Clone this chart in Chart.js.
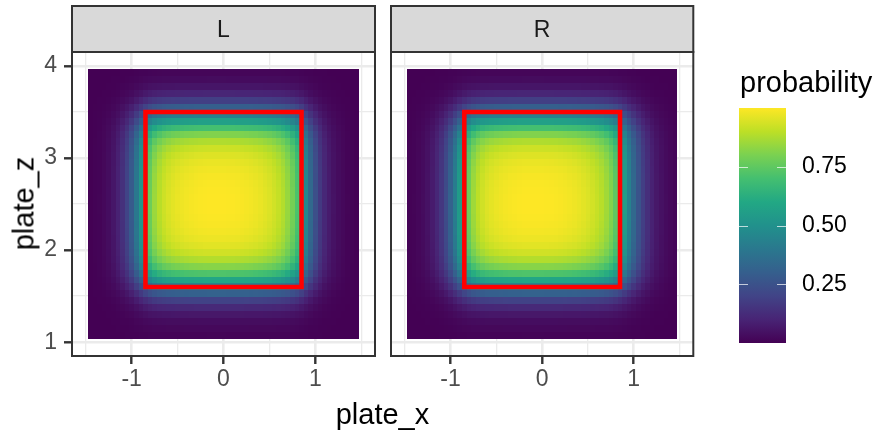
<!DOCTYPE html>
<html><head><meta charset="utf-8">
<script src="https://cdn.jsdelivr.net/npm/chart.js@4.4.1/dist/chart.umd.min.js"></script>
<style>
html,body{margin:0;padding:0;background:#fff;}
#wrap{position:relative;width:879px;height:432px;overflow:hidden;font-family:"Liberation Sans",Arial,sans-serif;}
canvas{position:absolute;top:0;}
.t{position:absolute;font-size:29px;line-height:29px;color:#000;white-space:nowrap;}
</style></head><body>
<div id="wrap">
<canvas id="cL" width="380" height="432" style="left:0px;width:380px;height:432px"></canvas>
<canvas id="cR" width="320" height="432" style="left:380px;width:320px;height:432px"></canvas>
<canvas id="cLeg" width="179" height="432" style="left:700px;width:179px;height:432px"></canvas>
<div class="t" id="xTitle" style="left:72px;width:621px;top:400px;text-align:center;"></div>
<div class="t" id="yTitle" style="left:-76px;width:200px;top:189px;height:29px;text-align:center;transform:rotate(-90deg);"></div>
<div class="t" id="legTitle" style="left:740px;top:68px;"></div>
</div>
<script>
// ---------------- data ----------------
const panels = ['L', 'R'];
const xTitle = 'plate_x';
const yTitle = 'plate_z';
const legendTitle = 'probability';

// tile centres
const xCenters = [-1.45,-1.40,-1.35,-1.30,-1.25,-1.20,-1.15,-1.10,-1.05,-1.00,-0.95,-0.90,-0.85,-0.80,-0.75,-0.70,-0.65,-0.60,-0.55,-0.50,-0.45,-0.40,-0.35,-0.30,-0.25,-0.20,-0.15,-0.10,-0.05,0.00,0.05,0.10,0.15,0.20,0.25,0.30,0.35,0.40,0.45,0.50,0.55,0.60,0.65,0.70,0.75,0.80,0.85,0.90,0.95,1.00,1.05,1.10,1.15,1.20,1.25,1.30,1.35,1.40,1.45];
const zCenters = [1.075,1.150,1.225,1.300,1.375,1.450,1.525,1.600,1.675,1.750,1.825,1.900,1.975,2.050,2.125,2.200,2.275,2.350,2.425,2.500,2.575,2.650,2.725,2.800,2.875,2.950,3.025,3.100,3.175,3.250,3.325,3.400,3.475,3.550,3.625,3.700,3.775,3.850,3.925];

// horizontal probability profile (read along the centre row of each panel)
const xProfileL = [0.000,0.005,0.010,0.020,0.035,0.060,0.095,0.140,0.200,0.285,0.400,0.530,0.660,0.775,0.850,0.895,0.925,0.945,0.960,0.970,0.978,0.985,0.990,0.994,0.997,0.999,1.000,1.000,1.000,1.000,0.999,0.998,0.996,0.993,0.989,0.984,0.978,0.970,0.960,0.948,0.932,0.912,0.885,0.845,0.790,0.715,0.600,0.460,0.340,0.240,0.165,0.110,0.075,0.050,0.032,0.020,0.010,0.005,0.000];
const xProfileR = [0.005,0.010,0.018,0.030,0.048,0.075,0.110,0.160,0.225,0.310,0.420,0.545,0.670,0.780,0.855,0.900,0.930,0.950,0.963,0.973,0.981,0.987,0.992,0.995,0.998,1.000,1.000,1.000,1.000,1.000,0.999,0.998,0.996,0.993,0.989,0.984,0.978,0.970,0.960,0.948,0.933,0.915,0.892,0.860,0.815,0.750,0.660,0.550,0.440,0.340,0.255,0.185,0.135,0.095,0.065,0.045,0.030,0.020,0.012];
// vertical probability profile (read along the centre column)
const zProfile = [0.010,0.020,0.035,0.065,0.115,0.195,0.310,0.450,0.590,0.720,0.820,0.885,0.930,0.958,0.975,0.986,0.993,0.997,1.000,1.000,1.000,0.998,0.995,0.990,0.982,0.970,0.952,0.925,0.880,0.810,0.700,0.565,0.430,0.300,0.185,0.105,0.058,0.030,0.015];

// strike zone
const zoneX = [-0.85, 0.85];
const zoneZ = [1.6, 3.5];

// axes
const xLim = [-1.65, 1.65];
const zLim = [0.85, 4.15];
const xTicks = [-1, 0, 1];
const xTickLabels = ['-1', '0', '1'];
const xMinor = [-1.5, -0.5, 0.5, 1.5];
const zTicks = [1, 2, 3, 4];
const zTickLabels = ['1', '2', '3', '4'];
const zMinor = [1.5, 2.5, 3.5];

// colour legend
const colorLim = [0, 1];
const legendTicks = [0.25, 0.5, 0.75];
const legendLabels = ['0.25', '0.50', '0.75'];

// viridis palette
const viridisStops = ['#440154','#482475','#414487','#355f8d','#2a788e','#21918c','#22a884','#44bf70','#7ad151','#bddf26','#fde725'];

// ---------------- helpers / styling ----------------
const FONT = '"Liberation Sans", Arial, sans-serif';
Chart.defaults.font.family = FONT;
const TILE_W = 0.05, TILE_H = 0.075;
const STRIP_TOP = 6;

function hexRgb(h){ return [parseInt(h.slice(1,3),16), parseInt(h.slice(3,5),16), parseInt(h.slice(5,7),16)]; }
const vRgb = viridisStops.map(hexRgb);
function viridis(v){
  let t = (v - colorLim[0]) / (colorLim[1] - colorLim[0]);
  t = Math.max(0, Math.min(1, t));
  const p = t * (vRgb.length - 1);
  const i = Math.min(Math.floor(p), vRgb.length - 2);
  const f = p - i;
  const a = vRgb[i], b = vRgb[i+1];
  return 'rgb(' + [0,1,2].map(k => Math.round(a[k] + (b[k]-a[k])*f)).join(',') + ')';
}

function buildCells(xProfile){
  const cells = [];
  zCenters.forEach((z, j) => {
    xCenters.forEach((x, i) => { cells.push({ x: x, y: z, v: xProfile[i] * zProfile[j] }); });
  });
  return cells;
}
function zonePath(){
  return [
    {x: zoneX[0], y: zoneZ[0]}, {x: zoneX[0], y: zoneZ[1]},
    {x: zoneX[1], y: zoneZ[1]}, {x: zoneX[1], y: zoneZ[0]},
    {x: zoneX[0], y: zoneZ[0]}
  ];
}

const panelPlugin = {
  id: 'panelDeco',
  beforeDatasetsDraw(chart) {
    const {ctx, chartArea: a} = chart;
    const xs = chart.scales.x, ys = chart.scales.y;
    const cells = chart.data.datasets[0].data;
    ctx.save();
    ctx.beginPath(); ctx.rect(a.left, a.top, a.right - a.left, a.bottom - a.top); ctx.clip();
    for (const c of cells) {
      const x0 = Math.round(xs.getPixelForValue(c.x - TILE_W/2));
      const x1 = Math.round(xs.getPixelForValue(c.x + TILE_W/2));
      const y0 = Math.round(ys.getPixelForValue(c.y + TILE_H/2));
      const y1 = Math.round(ys.getPixelForValue(c.y - TILE_H/2));
      ctx.fillStyle = viridis(c.v);
      ctx.fillRect(x0, y0, x1 - x0, y1 - y0);
    }
    ctx.restore();
  },
  afterDraw(chart, args, opts) {
    const {ctx, chartArea: a} = chart;
    ctx.save();
    // strip
    ctx.fillStyle = '#D9D9D9';
    ctx.fillRect(a.left, STRIP_TOP, a.right - a.left, a.top - STRIP_TOP);
    ctx.strokeStyle = '#333333';
    ctx.lineWidth = 2;
    ctx.strokeRect(a.left, STRIP_TOP, a.right - a.left, a.top - STRIP_TOP);
    ctx.fillStyle = '#1A1A1A';
    ctx.font = '23px ' + FONT;
    ctx.textAlign = 'center';
    ctx.textBaseline = 'middle';
    ctx.fillText(opts.label, (a.left + a.right) / 2, (STRIP_TOP + a.top) / 2 + 2);
    // panel border
    ctx.strokeStyle = '#333333';
    ctx.lineWidth = 2;
    ctx.strokeRect(a.left, a.top, a.right - a.left, a.bottom - a.top);
    ctx.restore();
  }
};

function makePanel(id, label, xProfile, showY, pad) {
  const xGrid = xTicks.concat(xMinor).sort((p, q) => p - q);
  const zGrid = zTicks.concat(zMinor).sort((p, q) => p - q);
  const xMajor = v => xTicks.indexOf(v) >= 0;
  const zMajor = v => zTicks.indexOf(v) >= 0;
  return new Chart(document.getElementById(id), {
    type: 'scatter',
    data: {
      datasets: [
        { label: 'probability', data: buildCells(xProfile), pointRadius: 0, pointHoverRadius: 0 },
        { label: 'zone', data: zonePath(), showLine: true, pointRadius: 0, borderColor: '#FF0000',
          borderWidth: 4.5, borderJoinStyle: 'miter', borderCapStyle: 'square', fill: false, tension: 0 }
      ]
    },
    options: {
      responsive: false, animation: false, events: [],
      layout: { padding: pad },
      plugins: { legend: { display: false }, tooltip: { enabled: false }, panelDeco: { label: label } },
      scales: {
        x: {
          type: 'linear', min: xLim[0], max: xLim[1],
          afterBuildTicks: s => { s.ticks = xGrid.map(v => ({ value: v })); },
          afterFit: s => { s.height = 44; },
          ticks: { autoSkip: false, maxRotation: 0, minRotation: 0, padding: 2, color: '#4D4D4D',
                   font: { size: 23, family: FONT },
                   callback: v => { const i = xTicks.indexOf(v); return i >= 0 ? xTickLabels[i] : ''; } },
          grid: { color: '#EBEBEB', lineWidth: c => (c.tick && xMajor(c.tick.value)) ? 2.6 : 1.3,
                  tickLength: 8, tickColor: c => (c.tick && xMajor(c.tick.value)) ? '#333333' : 'rgba(0,0,0,0)',
                  tickWidth: c => (c.tick && xMajor(c.tick.value)) ? 2.4 : 0.01 },
          border: { display: false }
        },
        y: {
          type: 'linear', min: zLim[0], max: zLim[1],
          afterBuildTicks: s => { s.ticks = zGrid.map(v => ({ value: v })); },
          afterFit: s => { s.width = showY ? 72 : 0; },
          ticks: { display: showY, autoSkip: false, padding: 7, color: '#4D4D4D',
                   font: { size: 23, family: FONT },
                   callback: v => { const i = zTicks.indexOf(v); return i >= 0 ? zTickLabels[i] : ''; } },
          grid: { color: '#EBEBEB', lineWidth: c => (c.tick && zMajor(c.tick.value)) ? 2.6 : 1.3,
                  drawTicks: showY, tickLength: showY ? 8 : 0,
                  tickColor: c => (c.tick && zMajor(c.tick.value)) ? '#333333' : 'rgba(0,0,0,0)',
                  tickWidth: c => (c.tick && zMajor(c.tick.value)) ? 2.4 : 0.01 },
          border: { display: false }
        }
      }
    },
    plugins: [panelPlugin]
  });
}

makePanel('cL', panels[0], xProfileL, true,  { left: 0,  top: 52, right: 5,   bottom: 32 });
makePanel('cR', panels[1], xProfileR, false, { left: 11, top: 52, right: 6.7, bottom: 32 });

// ---------------- colour bar ----------------
function barGradient(chart) {
  const a = chart.chartArea;
  if (!a) return viridisStops[5];
  const g = chart.ctx.createLinearGradient(0, a.bottom, 0, a.top);
  viridisStops.forEach((c, i) => g.addColorStop(i / (viridisStops.length - 1), c));
  return g;
}
const legendTickPlugin = {
  id: 'legTicks',
  afterDatasetsDraw(chart) {
    const {ctx, chartArea: a} = chart;
    const ys = chart.scales.y;
    ctx.save();
    ctx.strokeStyle = 'rgba(255,255,255,0.7)';
    ctx.lineWidth = 1.2;
    const L = 9;
    legendTicks.forEach(v => {
      const py = Math.round(ys.getPixelForValue(v)) + 0.5;
      ctx.beginPath();
      ctx.moveTo(a.left, py); ctx.lineTo(a.left + L, py);
      ctx.moveTo(a.right - L, py); ctx.lineTo(a.right, py);
      ctx.stroke();
    });
    ctx.restore();
  }
};
new Chart(document.getElementById('cLeg'), {
  type: 'bar',
  data: { labels: [legendTitle],
          datasets: [{ data: [[colorLim[0], colorLim[1]]], backgroundColor: c => barGradient(c.chart),
                       borderWidth: 0, barPercentage: 1, categoryPercentage: 1 }] },
  options: {
    responsive: false, animation: false, events: [],
    layout: { padding: { left: 39, top: 108, right: 0, bottom: 89 } },
    plugins: { legend: { display: false }, tooltip: { enabled: false } },
    scales: {
      x: { display: false },
      y: { position: 'right', min: colorLim[0], max: colorLim[1],
           afterBuildTicks: s => { s.ticks = legendTicks.map(v => ({ value: v })); },
           afterFit: s => { s.width = 93; },
           grid: { display: false, drawTicks: false }, border: { display: false },
           ticks: { padding: 16, color: '#000000', font: { size: 23, family: FONT },
                    callback: (v, i) => legendLabels[i] } }
    }
  },
  plugins: [legendTickPlugin]
});

document.getElementById('xTitle').textContent = xTitle;
document.getElementById('yTitle').textContent = yTitle;
document.getElementById('legTitle').textContent = legendTitle;
</script>
</body></html>
